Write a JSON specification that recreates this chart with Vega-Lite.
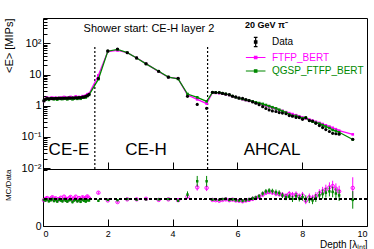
{
  "$schema": "https://vega.github.io/schema/vega-lite/v6.json",
  "background": "white",
  "padding": {"left": 2, "top": 17, "right": 6, "bottom": 0},
  "spacing": 0,
  "bounds": "flush",
  "config": {
    "font": "Liberation Sans",
    "view": {"stroke": "black", "strokeWidth": 1},
    "axis": {"grid": false, "domainColor": "black", "tickColor": "black", "labelColor": "black", "titleColor": "black", "titleFontWeight": "normal", "labelFont": "Liberation Sans", "titleFont": "Liberation Sans"},
    "concat": {"spacing": 0}
  },
  "datasets": {
    "bounds": [{"x": 1.6}, {"x": 5.08}],
    "layers": [
      {"x":0.03,"data":1.45,"derr":0.03,"ftfp":1.41,"qgsp":1.42,"rf":0.97,"rfe":0.05,"rq":0.98,"rqe":0.05},
      {"x":0.08,"data":1.62,"derr":0.03,"ftfp":1.65,"qgsp":1.56,"rf":1.02,"rfe":0.05,"rq":0.96,"rqe":0.05},
      {"x":0.13,"data":1.70,"derr":0.03,"ftfp":1.79,"qgsp":1.70,"rf":1.05,"rfe":0.05,"rq":1.00,"rqe":0.05},
      {"x":0.18,"data":1.66,"derr":0.03,"ftfp":1.63,"qgsp":1.54,"rf":0.98,"rfe":0.05,"rq":0.93,"rqe":0.05},
      {"x":0.24,"data":1.72,"derr":0.03,"ftfp":1.77,"qgsp":1.67,"rf":1.03,"rfe":0.05,"rq":0.97,"rqe":0.05},
      {"x":0.29,"data":1.68,"derr":0.03,"ftfp":1.81,"qgsp":1.70,"rf":1.08,"rfe":0.05,"rq":1.01,"rqe":0.05},
      {"x":0.34,"data":1.70,"derr":0.03,"ftfp":1.68,"qgsp":1.60,"rf":0.99,"rfe":0.05,"rq":0.94,"rqe":0.05},
      {"x":0.39,"data":1.73,"derr":0.03,"ftfp":1.80,"qgsp":1.70,"rf":1.04,"rfe":0.05,"rq":0.98,"rqe":0.05},
      {"x":0.44,"data":1.71,"derr":0.03,"ftfp":1.66,"qgsp":1.57,"rf":0.97,"rfe":0.05,"rq":0.92,"rqe":0.05},
      {"x":0.49,"data":1.74,"derr":0.03,"ftfp":1.76,"qgsp":1.72,"rf":1.01,"rfe":0.05,"rq":0.99,"rqe":0.05},
      {"x":0.55,"data":1.72,"derr":0.03,"ftfp":1.82,"qgsp":1.65,"rf":1.06,"rfe":0.05,"rq":0.96,"rqe":0.05},
      {"x":0.60,"data":1.75,"derr":0.03,"ftfp":1.72,"qgsp":1.63,"rf":0.98,"rfe":0.05,"rq":0.93,"rqe":0.05},
      {"x":0.65,"data":1.73,"derr":0.03,"ftfp":1.90,"qgsp":1.73,"rf":1.10,"rfe":0.05,"rq":1.00,"rqe":0.05},
      {"x":0.70,"data":1.76,"derr":0.03,"ftfp":1.80,"qgsp":1.67,"rf":1.02,"rfe":0.05,"rq":0.95,"rqe":0.05},
      {"x":0.75,"data":1.74,"derr":0.03,"ftfp":1.67,"qgsp":1.60,"rf":0.96,"rfe":0.05,"rq":0.92,"rqe":0.05},
      {"x":0.80,"data":1.77,"derr":0.03,"ftfp":1.84,"qgsp":1.72,"rf":1.04,"rfe":0.05,"rq":0.97,"rqe":0.05},
      {"x":0.85,"data":1.75,"derr":0.03,"ftfp":1.91,"qgsp":1.72,"rf":1.09,"rfe":0.05,"rq":0.98,"rqe":0.05},
      {"x":0.91,"data":1.78,"derr":0.03,"ftfp":1.76,"qgsp":1.60,"rf":0.99,"rfe":0.05,"rq":0.90,"rqe":0.05},
      {"x":0.96,"data":1.76,"derr":0.03,"ftfp":1.81,"qgsp":1.69,"rf":1.03,"rfe":0.05,"rq":0.96,"rqe":0.05},
      {"x":1.01,"data":1.80,"derr":0.03,"ftfp":1.98,"qgsp":1.78,"rf":1.10,"rfe":0.05,"rq":0.99,"rqe":0.05},
      {"x":1.06,"data":1.78,"derr":0.03,"ftfp":1.73,"qgsp":1.66,"rf":0.97,"rfe":0.05,"rq":0.93,"rqe":0.05},
      {"x":1.11,"data":1.82,"derr":0.03,"ftfp":1.91,"qgsp":1.77,"rf":1.05,"rfe":0.05,"rq":0.97,"rqe":0.05},
      {"x":1.16,"data":1.83,"derr":0.03,"ftfp":1.83,"qgsp":1.67,"rf":1.00,"rfe":0.05,"rq":0.91,"rqe":0.05},
      {"x":1.22,"data":1.87,"derr":0.03,"ftfp":2.02,"qgsp":1.83,"rf":1.08,"rfe":0.05,"rq":0.98,"rqe":0.05},
      {"x":1.27,"data":1.92,"derr":0.03,"ftfp":1.96,"qgsp":1.82,"rf":1.02,"rfe":0.05,"rq":0.95,"rqe":0.05},
      {"x":1.32,"data":2.00,"derr":0.03,"ftfp":2.12,"qgsp":1.84,"rf":1.06,"rfe":0.05,"rq":0.92,"rqe":0.05},
      {"x":1.37,"data":2.10,"derr":0.03,"ftfp":2.33,"qgsp":2.04,"rf":1.11,"rfe":0.05,"rq":0.97,"rqe":0.05},
      {"x":1.42,"data":2.30,"derr":0.04,"ftfp":2.39,"qgsp":2.21,"rf":1.04,"rfe":0.05,"rq":0.96,"rqe":0.05},
      {"x":1.71,"data":7.5,"derr":0.15,"ftfp":9.4,"qgsp":7.1,"rf":1.25,"rfe":0.05,"rq":0.95,"rqe":0.05},
      {"x":2.00,"data":57,"derr":1.0,"ftfp":54.7,"qgsp":55.9,"rf":0.96,"rfe":0.03,"rq":0.98,"rqe":0.03},
      {"x":2.30,"data":66,"derr":1.2,"ftfp":59.4,"qgsp":64.0,"rf":0.90,"rfe":0.03,"rq":0.97,"rqe":0.03},
      {"x":2.60,"data":50,"derr":1.0,"ftfp":50,"qgsp":50.5,"rf":1.00,"rfe":0.03,"rq":1.01,"rqe":0.03},
      {"x":2.89,"data":34,"derr":0.7,"ftfp":34,"qgsp":33.7,"rf":1.00,"rfe":0.03,"rq":0.99,"rqe":0.03},
      {"x":3.18,"data":22,"derr":0.5,"ftfp":22.4,"qgsp":22,"rf":1.02,"rfe":0.03,"rq":1.00,"rqe":0.03},
      {"x":3.57,"data":12.7,"derr":0.3,"ftfp":12.4,"qgsp":12.7,"rf":0.98,"rfe":0.03,"rq":1.00,"rqe":0.03},
      {"x":3.87,"data":8.2,"derr":0.2,"ftfp":8.2,"qgsp":8.3,"rf":1.00,"rfe":0.03,"rq":1.01,"rqe":0.03},
      {"x":4.17,"data":7.6,"derr":0.2,"ftfp":7.37,"qgsp":7.22,"rf":0.97,"rfe":0.04,"rq":0.95,"rqe":0.04},
      {"x":4.46,"data":2.0,"derr":0.08,"ftfp":2.2,"qgsp":2.36,"rf":1.10,"rfe":0.08,"rq":1.18,"rqe":0.12},
      {"x":4.76,"data":1.1,"derr":0.06,"ftfp":1.6,"qgsp":1.85,"rf":1.45,"rfe":0.12,"rq":1.68,"rqe":0.2},
      {"x":5.05,"data":0.82,"derr":0.05,"ftfp":1.17,"qgsp":1.38,"rf":1.43,"rfe":0.12,"rq":1.68,"rqe":0.2},
      {"x":5.23,"data":2.68,"derr":0.06,"ftfp":2.63,"qgsp":2.66,"rf":0.98,"rfe":0.04,"rq":0.99,"rqe":0.04},
      {"x":5.33,"data":2.65,"derr":0.06,"ftfp":2.57,"qgsp":2.65,"rf":0.97,"rfe":0.04,"rq":1.00,"rqe":0.04},
      {"x":5.44,"data":2.64,"derr":0.06,"ftfp":2.51,"qgsp":2.59,"rf":0.95,"rfe":0.04,"rq":0.98,"rqe":0.04},
      {"x":5.54,"data":2.48,"derr":0.06,"ftfp":2.43,"qgsp":2.50,"rf":0.98,"rfe":0.04,"rq":1.01,"rqe":0.04},
      {"x":5.64,"data":2.34,"derr":0.06,"ftfp":2.34,"qgsp":2.39,"rf":1.00,"rfe":0.05,"rq":1.02,"rqe":0.05},
      {"x":5.75,"data":2.26,"derr":0.06,"ftfp":2.19,"qgsp":2.21,"rf":0.97,"rfe":0.05,"rq":0.98,"rqe":0.05},
      {"x":5.85,"data":2.02,"derr":0.05,"ftfp":2.00,"qgsp":2.02,"rf":0.99,"rfe":0.05,"rq":1.00,"rqe":0.05},
      {"x":5.95,"data":1.92,"derr":0.05,"ftfp":1.84,"qgsp":1.86,"rf":0.96,"rfe":0.05,"rq":0.97,"rqe":0.05},
      {"x":6.05,"data":1.79,"derr":0.05,"ftfp":1.70,"qgsp":1.72,"rf":0.95,"rfe":0.05,"rq":0.96,"rqe":0.05},
      {"x":6.16,"data":1.72,"derr":0.05,"ftfp":1.60,"qgsp":1.63,"rf":0.93,"rfe":0.06,"rq":0.95,"rqe":0.06},
      {"x":6.26,"data":1.57,"derr":0.05,"ftfp":1.51,"qgsp":1.53,"rf":0.96,"rfe":0.06,"rq":0.97,"rqe":0.06},
      {"x":6.36,"data":1.46,"derr":0.04,"ftfp":1.43,"qgsp":1.46,"rf":0.98,"rfe":0.06,"rq":1.00,"rqe":0.06},
      {"x":6.47,"data":1.32,"derr":0.04,"ftfp":1.35,"qgsp":1.38,"rf":1.02,"rfe":0.07,"rq":1.04,"rqe":0.07},
      {"x":6.57,"data":1.20,"derr":0.04,"ftfp":1.26,"qgsp":1.28,"rf":1.05,"rfe":0.07,"rq":1.07,"rqe":0.07},
      {"x":6.67,"data":1.08,"derr":0.04,"ftfp":1.19,"qgsp":1.21,"rf":1.10,"rfe":0.08,"rq":1.12,"rqe":0.08},
      {"x":6.78,"data":0.93,"derr":0.03,"ftfp":1.10,"qgsp":1.14,"rf":1.18,"rfe":0.08,"rq":1.22,"rqe":0.08},
      {"x":6.88,"data":0.81,"derr":0.03,"ftfp":1.01,"qgsp":1.05,"rf":1.25,"rfe":0.09,"rq":1.30,"rqe":0.09},
      {"x":6.98,"data":0.73,"derr":0.03,"ftfp":0.93,"qgsp":0.97,"rf":1.28,"rfe":0.09,"rq":1.33,"rqe":0.09},
      {"x":7.08,"data":0.68,"derr":0.03,"ftfp":0.86,"qgsp":0.89,"rf":1.26,"rfe":0.09,"rq":1.31,"rqe":0.09},
      {"x":7.19,"data":0.65,"derr":0.03,"ftfp":0.79,"qgsp":0.82,"rf":1.22,"rfe":0.1,"rq":1.27,"rqe":0.1},
      {"x":7.29,"data":0.60,"derr":0.03,"ftfp":0.72,"qgsp":0.74,"rf":1.20,"rfe":0.1,"rq":1.24,"rqe":0.1},
      {"x":7.39,"data":0.58,"derr":0.03,"ftfp":0.68,"qgsp":0.67,"rf":1.17,"rfe":0.1,"rq":1.15,"rqe":0.1},
      {"x":7.50,"data":0.55,"derr":0.03,"ftfp":0.62,"qgsp":0.60,"rf":1.12,"rfe":0.11,"rq":1.08,"rqe":0.11},
      {"x":7.60,"data":0.48,"derr":0.025,"ftfp":0.575,"qgsp":0.53,"rf":1.20,"rfe":0.11,"rq":1.10,"rqe":0.11},
      {"x":7.70,"data":0.46,"derr":0.025,"ftfp":0.537,"qgsp":0.47,"rf":1.16,"rfe":0.12,"rq":1.02,"rqe":0.12},
      {"x":7.81,"data":0.42,"derr":0.02,"ftfp":0.495,"qgsp":0.47,"rf":1.18,"rfe":0.12,"rq":1.12,"rqe":0.12},
      {"x":7.91,"data":0.415,"derr":0.02,"ftfp":0.457,"qgsp":0.43,"rf":1.10,"rfe":0.12,"rq":1.04,"rqe":0.12},
      {"x":8.01,"data":0.365,"derr":0.02,"ftfp":0.42,"qgsp":0.395,"rf":1.15,"rfe":0.13,"rq":1.08,"rqe":0.13},
      {"x":8.11,"data":0.41,"derr":0.02,"ftfp":0.39,"qgsp":0.42,"rf":0.95,"rfe":0.13,"rq":1.02,"rqe":0.13},
      {"x":8.22,"data":0.333,"derr":0.02,"ftfp":0.36,"qgsp":0.333,"rf":1.08,"rfe":0.14,"rq":1.00,"rqe":0.14},
      {"x":8.32,"data":0.32,"derr":0.02,"ftfp":0.33,"qgsp":0.307,"rf":1.03,"rfe":0.14,"rq":0.96,"rqe":0.14},
      {"x":8.42,"data":0.272,"derr":0.018,"ftfp":0.305,"qgsp":0.286,"rf":1.12,"rfe":0.15,"rq":1.05,"rqe":0.15},
      {"x":8.53,"data":0.23,"derr":0.016,"ftfp":0.28,"qgsp":0.264,"rf":1.22,"rfe":0.16,"rq":1.15,"rqe":0.16},
      {"x":8.63,"data":0.198,"derr":0.015,"ftfp":0.257,"qgsp":0.238,"rf":1.30,"rfe":0.17,"rq":1.20,"rqe":0.17},
      {"x":8.73,"data":0.171,"derr":0.014,"ftfp":0.234,"qgsp":0.214,"rf":1.37,"rfe":0.18,"rq":1.25,"rqe":0.18},
      {"x":8.84,"data":0.148,"derr":0.013,"ftfp":0.214,"qgsp":0.192,"rf":1.45,"rfe":0.19,"rq":1.30,"rqe":0.19},
      {"x":8.94,"data":0.130,"derr":0.012,"ftfp":0.195,"qgsp":0.166,"rf":1.50,"rfe":0.2,"rq":1.28,"rqe":0.2},
      {"x":9.04,"data":0.126,"derr":0.012,"ftfp":0.176,"qgsp":0.154,"rf":1.40,"rfe":0.2,"rq":1.22,"rqe":0.2},
      {"x":9.14,"data":0.122,"derr":0.012,"ftfp":0.158,"qgsp":0.140,"rf":1.30,"rfe":0.21,"rq":1.15,"rqe":0.21},
      {"x":9.56,"data":0.084,"derr":0.01,"ftfp":0.12,"qgsp":0.082,"rf":1.43,"rfe":0.4,"rq":0.98,"rqe":0.33}
    ]
  },
  "vconcat": [
    {
      "width": 324,
      "height": 151,
      "layer": [
        {
          "data": {"name": "bounds"},
          "mark": {"type": "rule", "strokeDash": [2, 2], "strokeWidth": 1.2, "color": "black"},
          "encoding": {
            "x": {"field": "x", "type": "quantitative", "scale": {"domain": [0, 10], "nice": false},
              "axis": {"values": [0,0.5,1,1.5,2,2.5,3,3.5,4,4.5,5,5.5,6,6.5,7,7.5,8,8.5,9,9.5,10], "labels": false, "title": null, "domain": false,
                "minExtent": 0, "maxExtent": 0,
                "tickSize": {"condition": {"test": "datum.value % 2 == 0", "value": -7}, "value": -4}}},
            "y": {"datum": 0.0093},
            "y2": {"datum": 82}
          }
        },
        {
          "data": {"name": "layers"},
          "mark": {"type": "line", "strokeWidth": 1.3, "point": {"shape": "square", "size": 7, "filled": true}},
          "encoding": {
            "x": {"field": "x", "type": "quantitative", "scale": {"domain": [0, 10], "nice": false}},
            "y": {"field": "ftfp", "type": "quantitative", "title": "<E> [MIPs]", "scale": {"type": "log", "domain": [0.0093, 650], "nice": false}},
            "color": {"datum": "FTFP_BERT", "type": "nominal",
              "scale": {"domain": ["Data", "FTFP_BERT", "QGSP_FTFP_BERT"], "range": ["black", "#ff00ff", "#008800"]},
              "legend": {
                "title": "20 GeV π⁻", "titleFontSize": 9, "titleFontWeight": "bold", "titleColor": "black", "titlePadding": 5,
                "orient": "top-right", "offset": 3, "padding": 0,
                "labelFontSize": 10, "labelOffset": 13, "symbolSize": 150, "rowPadding": 1.5,
                "symbolOpacity": 1,
                "encode": {
                  "symbols": {"update": {
                    "shape": {"signal": "datum.value === 'Data' ? 'M0.6,-0.75V0.75M0.3,-0.75H0.9M0.3,0.75H0.9M0.4,-0.2H0.8V0.2H0.4Z' : 'M-1,0H2.2M0.4,-0.2H0.8V0.2H0.4Z'"},
                    "stroke": {"signal": "datum.value === 'Data' ? 'black' : datum.value === 'FTFP_BERT' ? '#ff00ff' : '#008800'"},
                    "fill": {"signal": "datum.value === 'Data' ? 'black' : datum.value === 'FTFP_BERT' ? '#ff00ff' : '#008800'"},
                    "strokeWidth": {"value": 1.2}
                  }},
                  "labels": {"update": {
                    "fill": {"signal": "datum.value === 'Data' ? 'black' : datum.value === 'FTFP_BERT' ? '#ff00ff' : '#008800'"}
                  }}
                }
              }
            }
          }
        },
        {
          "data": {"name": "layers"},
          "mark": {"type": "line", "strokeWidth": 1.3, "point": {"shape": "square", "size": 7, "filled": true}},
          "encoding": {
            "x": {"field": "x", "type": "quantitative"},
            "y": {"field": "qgsp", "type": "quantitative", "title": "<E> [MIPs]"},
            "color": {"datum": "QGSP_FTFP_BERT", "type": "nominal"}
          }
        },
        {
          "data": {"name": "layers"},
          "mark": {"type": "errorbar", "ticks": {"size": 3}, "color": "black", "thickness": 1},
          "encoding": {
            "x": {"field": "x", "type": "quantitative"},
            "y": {"field": "data", "type": "quantitative", "title": "<E> [MIPs]",
              "axis": {"values": [0.01,0.02,0.03,0.04,0.05,0.06,0.07,0.08,0.09,0.1,0.2,0.3,0.4,0.5,0.6,0.7,0.8,0.9,1,2,3,4,5,6,7,8,9,10,20,30,40,50,60,70,80,90,100,200,300,400,500,600],
                "labelExpr": "datum.value == 0.01 ? '10⁻²' : datum.value == 0.1 ? '10⁻¹' : datum.value == 1 ? '1' : datum.value == 10 ? '10' : datum.value == 100 ? '10²' : ''",
                "labelOverlap": false, "labelPadding": 9, "domain": false,
                "labelFontSize": {"condition": {"test": "indexof([0.01,0.1,1,10,100], datum.value) >= 0", "value": 11}, "value": 0},
                "tickSize": {"condition": {"test": "indexof([0.01,0.1,1,10,100], datum.value) >= 0", "value": -7}, "value": -4},
                "minExtent": 27, "maxExtent": 27,
                "title": "<E> [MIPs]", "titleFontSize": 11, "titleAnchor": "end", "titlePadding": 2}}
          }
        },
        {
          "data": {"name": "layers"},
          "mark": {"type": "point", "filled": true, "size": 10, "opacity": 1},
          "encoding": {
            "x": {"field": "x", "type": "quantitative"},
            "y": {"field": "data", "type": "quantitative", "title": "<E> [MIPs]"},
            "color": {"datum": "Data", "type": "nominal"}
          }
        },
        {
          "data": {"values": [{}]},
          "mark": {"type": "text", "fontSize": 17, "align": "center", "baseline": "middle", "color": "black"},
          "encoding": {"x": {"datum": 0.8}, "y": {"datum": 0.038}, "text": {"value": "CE-E"}}
        },
        {
          "data": {"values": [{}]},
          "mark": {"type": "text", "fontSize": 17, "align": "center", "baseline": "middle", "color": "black"},
          "encoding": {"x": {"datum": 3.18}, "y": {"datum": 0.038}, "text": {"value": "CE-H"}}
        },
        {
          "data": {"values": [{}]},
          "mark": {"type": "text", "fontSize": 17, "align": "center", "baseline": "middle", "color": "black"},
          "encoding": {"x": {"datum": 7.07}, "y": {"datum": 0.038}, "text": {"value": "AHCAL"}}
        },
        {
          "data": {"values": [{}]},
          "mark": {"type": "text", "fontSize": 11, "align": "center", "baseline": "middle", "color": "black"},
          "encoding": {"x": {"datum": 3.27}, "y": {"datum": 288}, "text": {"value": "Shower start: CE-H layer 2"}}
        }
      ]
    },
    {
      "width": 324,
      "height": 57,
      "data": {"name": "layers"},
      "layer": [
        {
          "mark": {"type": "point", "shape": "circle", "filled": false, "size": 12, "strokeWidth": 1, "color": "#ff00ff", "opacity": 1},
          "encoding": {
            "x": {"field": "x", "type": "quantitative", "scale": {"domain": [0, 10], "nice": false},
              "axis": {"values": [0,0.5,1,1.5,2,2.5,3,3.5,4,4.5,5,5.5,6,6.5,7,7.5,8,8.5,9,9.5,10],
                "labelExpr": "datum.value % 2 == 0 ? datum.label : ''", "labelOverlap": false, "labelPadding": 10, "domain": false,
                "labelFontSize": {"condition": {"test": "datum.value % 2 == 0", "value": 9}, "value": 0},
                "tickSize": {"condition": {"test": "datum.value % 2 == 0", "value": -7}, "value": -4},
                "title": "Depth [λᵢₙₜ]", "titleFontSize": 10, "titleAnchor": "end", "titlePadding": 1}},
            "y": {"field": "rf", "type": "quantitative", "title": "MC/Data", "scale": {"domain": [0, 2.14], "nice": false},
              "axis": {"values": [0,0.1,0.2,0.3,0.4,0.5,0.6,0.7,0.8,0.9,1,1.1,1.2,1.3,1.4,1.5,1.6,1.7,1.8,1.9,2,2.1],
                "labelExpr": "datum.value == 0 ? '0' : datum.value == 0.5 ? '0.5' : datum.value == 1 ? '1' : datum.value == 1.5 ? '1.5' : datum.value == 2 ? '2' : ''",
                "labelOverlap": false, "labelPadding": 9, "domain": false, "zindex": 1,
                "labelFontSize": {"condition": {"test": "datum.value == 0 || datum.value == 0.5 || datum.value == 1 || datum.value == 1.5 || datum.value == 2", "value": 10.5}, "value": 0},
                "tickSize": {"condition": {"test": "datum.value == 0 || datum.value == 0.5 || datum.value == 1 || datum.value == 1.5 || datum.value == 2", "value": -7}, "value": -4},
                "minExtent": 27, "maxExtent": 27,
                "title": "MC/Data", "titleFontSize": 8, "titleAnchor": "end", "titlePadding": 4}}
          }
        },
        {
          "mark": {"type": "errorbar", "color": "#ff00ff", "thickness": 1},
          "encoding": {
            "x": {"field": "x", "type": "quantitative"},
            "y": {"field": "rf", "type": "quantitative", "title": "MC/Data"},
            "yError": {"field": "rfe"}
          }
        },
        {
          "mark": {"type": "errorbar", "color": "#008800", "thickness": 1},
          "encoding": {
            "x": {"field": "x", "type": "quantitative"},
            "y": {"field": "rq", "type": "quantitative", "title": "MC/Data"},
            "yError": {"field": "rqe"}
          }
        },
        {
          "mark": {"type": "point", "shape": "square", "filled": true, "size": 6, "color": "#008800", "opacity": 1},
          "encoding": {
            "x": {"field": "x", "type": "quantitative"},
            "y": {"field": "rq", "type": "quantitative", "title": "MC/Data"}
          }
        },
        {
          "mark": {"type": "rule", "strokeDash": [3, 2], "color": "black", "strokeWidth": 1},
          "encoding": {"y": {"datum": 1}}
        }
      ]
    }
  ]
}
